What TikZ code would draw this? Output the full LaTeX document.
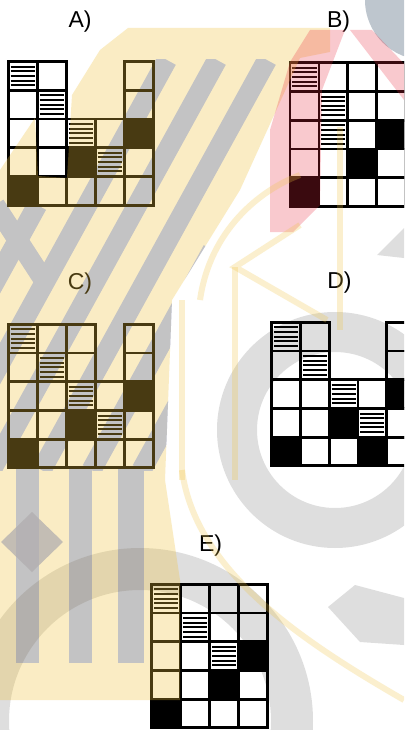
\documentclass[tikz,border=0pt]{standalone}
\usepackage{fontspec}
\setmainfont{Liberation Sans}
\usetikzlibrary{calc}
\definecolor{wmY}{RGB}{240,195,60}
\definecolor{wmS}{RGB}{176,195,255}
\definecolor{wmD}{RGB}{150,165,225}
\definecolor{wmP}{RGB}{235,40,60}
\definecolor{wmB}{RGB}{190,198,206}
\tikzset{
  cell/.style={draw=black, line width=2.8, inner sep=0, outer sep=0},
  cellE/.style={cell},
  cellK/.style={cell, fill=black},
  cellH/.style={cell, path picture={
      \foreach \k in {1,...,5}
        \draw[line width=2] ($(path picture bounding box.north west)+(2.4,{0.5+4.6*\k})$)
          -- ($(path picture bounding box.north east)+(-2.4,{0.5+4.6*\k})$);}},
  lbl/.style={font=\fontsize{23}{27}\selectfont, inner sep=0, anchor=base},
  yel/.style={fill=wmY, fill opacity=0.3},
  yline/.style={draw=wmY, draw opacity=0.25, line width=6},
  stripe/.style={draw=wmS, line width=20},
  ring/.style={fill=black, fill opacity=0.13, even odd rule},
  pinkish/.style={fill=wmP, fill opacity=0.25},
}
\begin{document}
\begin{tikzpicture}[x=1pt,y=-1pt]
\useasboundingbox (0,0) rectangle (404,730);
\clip (0,0) rectangle (404,730);
\fill[white] (0,0) rectangle (404,730);

% ---- watermark, lower layer ----
\begin{scope}
  \clip (128,28) -- (330,28) -- (330,52) -- (300,58) -- (240,190) -- (172,300) -- (165,480)
    -- (180,580) -- (180,700) -- (0,700) -- (0,170) -- (35,118) -- (38,176) -- (67,178)
    -- (72,95) -- (100,50) -- cycle;
  \clip (0,60) rectangle (404,470);
  \foreach \k in {200,250,300}
    \draw[stripe] ({\k-0.55*60},60) -- ({\k-0.55*470},470);
  \foreach \k in {350,400}
    \draw[stripe] ({\k-0.55*250},250) -- ({\k-0.55*470},470);
  \foreach \k in {100,150}
    \draw[stripe] ({\k-0.55*205},205) -- ({\k-0.55*470},470);
  \draw[stripe] (-5,205) -- (45,282);
\end{scope}
\draw[wmS, line width=23] (27,466) -- (27,663);
\draw[wmS, line width=23] (80,466) -- (80,663);
\draw[wmS, line width=26] (131,466) -- (131,663);
\fill[wmD, fill opacity=0.75] (32,512) -- (63,542) -- (32,572) -- (1,542) -- cycle;
\path[ring] (140,721) circle[radius=173] (140,721) circle[radius=131];
\path[ring] (335,430) circle[radius=118] (335,430) circle[radius=78];
\fill[black, fill opacity=0.13] (328,607) -- (355,585) -- (404,598) -- (404,645) -- (360,642) -- cycle;
\fill[black, fill opacity=0.13] (377,255) -- (404,228) -- (404,258) -- cycle;
\fill[wmB] (425,0) circle[radius=60];

% labels
\node[lbl] (labA) at (80,27.3) {A)};
\node[lbl] (labB) at (338.5,27.8) {B)};
\node[lbl] (labC) at (80,289.8) {C)};
\node[lbl] (labD) at (339.5,288.5) {D)};
\node[lbl] (labE) at (210.5,551.5) {E)};

% grid A
\begin{scope}[shift={(8.3,61.7)}]
\foreach \c/\r/\t in {1/1/H,2/1/E,5/1/E,
                      1/2/E,2/2/H,5/2/E,
                      1/3/E,2/3/E,3/3/H,4/3/E,5/3/K,
                      1/4/E,2/4/E,3/4/K,4/4/H,5/4/E,
                      1/5/K,2/5/E,3/5/E,4/5/E,5/5/E}
  \node[cell\t, minimum width=29, minimum height=28.7] (A\c\r) at ({29*(\c-0.5)},{28.7*(\r-0.5)}) {};
\end{scope}

% grid B
\begin{scope}[shift={(290,62.7)}]
\foreach \c/\r/\t in {1/1/H,2/1/E,3/1/E,4/1/E,5/1/E,
                      1/2/E,2/2/H,3/2/E,4/2/E,5/2/E,
                      1/3/E,2/3/H,3/3/E,4/3/K,5/3/E,
                      1/4/E,2/4/E,3/4/K,4/4/E,5/4/E,
                      1/5/K,2/5/E,3/5/E,4/5/E,5/5/E}
  \node[cell\t, minimum width=28.9, minimum height=28.8] (B\c\r) at ({28.9*(\c-0.5)},{28.8*(\r-0.5)}) {};
\end{scope}

% grid C
\begin{scope}[shift={(8.3,324.3)}]
\foreach \c/\r/\t in {1/1/H,2/1/E,3/1/E,5/1/E,
                      1/2/E,2/2/H,3/2/E,5/2/E,
                      1/3/E,2/3/E,3/3/H,4/3/E,5/3/K,
                      1/4/E,2/4/E,3/4/K,4/4/H,5/4/E,
                      1/5/K,2/5/E,3/5/E,4/5/E,5/5/E}
  \node[cell\t, minimum width=29, minimum height=28.7] (C\c\r) at ({29*(\c-0.5)},{28.7*(\r-0.5)}) {};
\end{scope}

% grid D
\begin{scope}[shift={(271.7,322.3)}]
\foreach \c/\r/\t in {1/1/H,2/1/E,5/1/E,
                      1/2/E,2/2/H,5/2/E,
                      1/3/E,2/3/E,3/3/H,4/3/E,5/3/K,
                      1/4/E,2/4/E,3/4/K,4/4/H,5/4/E,
                      1/5/K,2/5/E,3/5/E,4/5/K,5/5/E}
  \node[cell\t, minimum width=28.75, minimum height=28.7] (D\c\r) at ({28.75*(\c-0.5)},{28.7*(\r-0.5)}) {};
\end{scope}

% grid E
\begin{scope}[shift={(151.7,584.3)}]
\foreach \c/\r/\t in {1/1/H,2/1/E,3/1/E,4/1/E,
                      1/2/E,2/2/H,3/2/E,4/2/E,
                      1/3/E,2/3/E,3/3/H,4/3/K,
                      1/4/E,2/4/E,3/4/K,4/4/E,
                      1/5/K,2/5/E,3/5/E,4/5/E}
  \node[cell\t, minimum width=29, minimum height=28.7] (E\c\r) at ({29*(\c-0.5)},{28.7*(\r-0.5)}) {};
\end{scope}

% ---- watermark, tinting layer ----
\path[yel] (128,28) -- (330,28) -- (330,52) -- (300,58) -- (240,190) -- (172,300) -- (165,480)
    -- (180,580) -- (180,700) -- (0,700) -- (0,170) -- (35,118) -- (38,176) -- (67,178)
    -- (72,95) -- (100,50) -- cycle;
\path[pinkish] (310,30) -- (345,30) -- (322,90) -- (320,205) -- (293,232) -- (270,232) -- (270,130) -- (290,62) -- cycle;
\path[pinkish] (350,30) -- (372,30) -- (412,72) -- (404,100) -- cycle;
\draw[yline] (182,300) -- (182,480);
\draw[yline] (235,267) -- (235,480);
\draw[yline] (300,225) -- (235,267) -- (327,320);
\draw[yline] (340,127) -- (340,330);
\draw[yline] (182,470) .. controls (195,570) and (300,640) .. (404,700);
\draw[yline] (200,300) .. controls (210,230) and (260,190) .. (300,175);
\end{tikzpicture}
\end{document}
